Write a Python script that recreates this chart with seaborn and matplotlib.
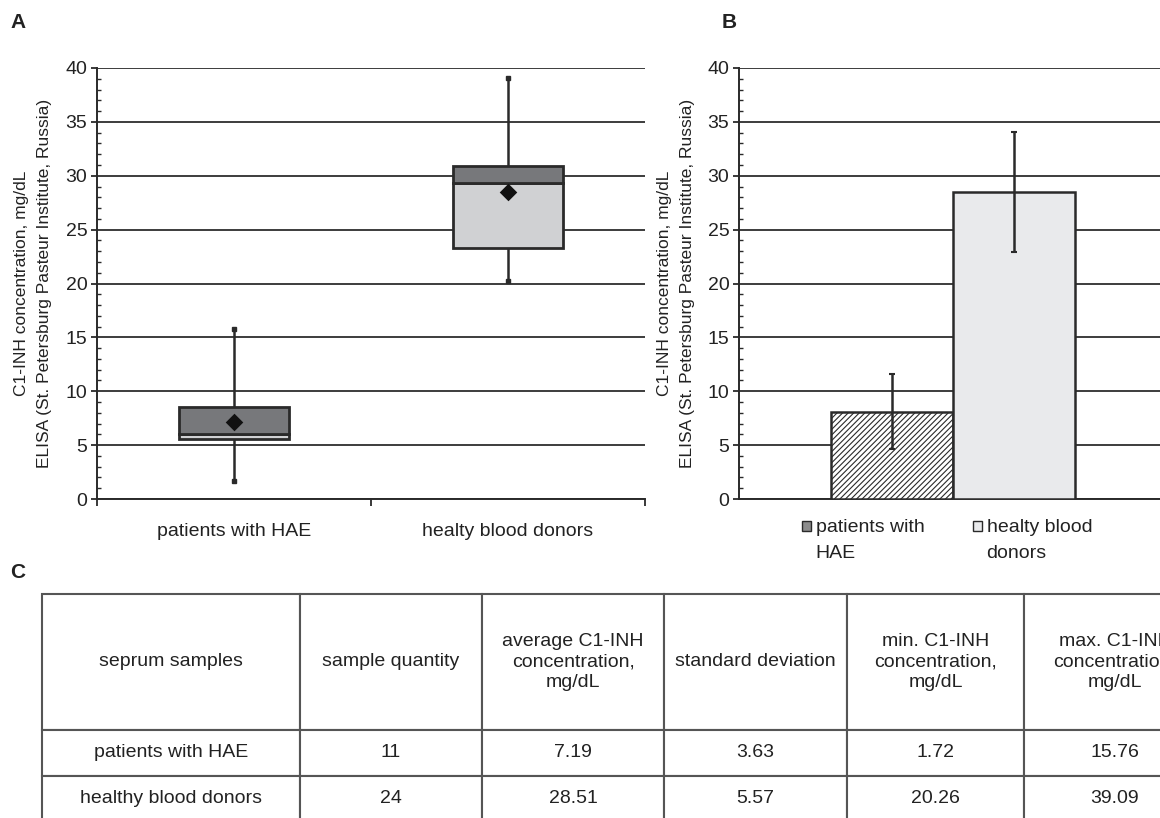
import numpy as np
import pandas as pd
import matplotlib
matplotlib.use("Agg")
import matplotlib.pyplot as plt
import seaborn as sns
from matplotlib.patches import Patch

# ---------------- data ----------------
groups = ["patients with HAE", "healty blood donors"]
box_min = [1.7, 20.2]
box_q1 = [5.6, 23.3]
box_median = [6.0, 29.35]
box_q3 = [8.5, 30.9]
box_max = [15.8, 39.1]
box_mean = [7.15, 28.5]

bar_labels = ["patients with\nHAE", "healty blood\ndonors"]
bar_means = [8.1, 28.5]
bar_err = [3.5, 5.57]

y_ticks = [0, 5, 10, 15, 20, 25, 30, 35, 40]
y_label = "C1-INH concentration, mg/dL\nELISA (St. Petersburg Pasteur Institute, Russia)"

table_header = ["seprum samples", "sample quantity",
                "average C1-INH\nconcentration,\nmg/dL", "standard deviation",
                "min. C1-INH\nconcentration,\nmg/dL", "max. C1-INH\nconcentration,\nmg/dL"]
table_groups = ["patients with HAE", "healthy blood donors"]
table_n = ["11", "24"]
table_avg = ["7.19", "28.51"]
table_sd = ["3.63", "5.57"]
table_min = ["1.72", "20.26"]
table_max = ["15.76", "39.09"]

# ---------------- style ----------------
sns.set_theme(style="white")
plt.rcParams["font.family"] = ["Liberation Sans", "DejaVu Sans"]
plt.rcParams["hatch.linewidth"] = 0.8
TXT = "#222222"
EDGE = "#2a2a2a"
GRID = "#3c3c3c"
BOX_DARK = "#77787b"
BOX_LIGHT = "#d0d1d3"
BAR_LIGHT = "#e9eaec"

W, H = 1160, 818
fig = plt.figure(figsize=(W / 100, H / 100), dpi=100)


def rect(l, t, r, b):
    return [l / W, 1 - b / H, (r - l) / W, (b - t) / H]


def style_axes(ax):
    ax.set_facecolor("white")
    ax.set_ylim(0, 40)
    ax.set_yticks(y_ticks)
    ax.set_yticks(range(0, 41), minor=True)
    ax.tick_params(axis="y", which="major", direction="out", length=4, width=1.3,
                   color=EDGE, labelsize=14, labelcolor=TXT, pad=3, left=True)
    ax.tick_params(axis="y", which="minor", direction="in", length=3, width=1.0,
                   color=EDGE, left=True)
    ax.yaxis.grid(True, which="major", color=GRID, lw=1.4)
    ax.xaxis.grid(False)
    ax.set_axisbelow(True)
    for s in ["top", "right"]:
        ax.spines[s].set_visible(False)
    for s in ["left", "bottom"]:
        ax.spines[s].set_color(EDGE)
        ax.spines[s].set_linewidth(1.4)


# ---------------- panel A ----------------
axA = fig.add_axes(rect(97, 68, 645, 499))
style_axes(axA)
xA = np.arange(len(groups))
axA.vlines(xA, box_min, box_q1, color=EDGE, lw=1.8, zorder=2)
axA.vlines(xA, box_q3, box_max, color=EDGE, lw=1.8, zorder=2)
axA.plot(xA, box_min, ls="none", marker="s", ms=2.5, color=EDGE, zorder=2)
axA.plot(xA, box_max, ls="none", marker="s", ms=2.5, color=EDGE, zorder=2)
axA.bar(xA, np.subtract(box_median, box_q1), bottom=box_q1, width=0.4,
        color=BOX_LIGHT, edgecolor=EDGE, lw=2.0, zorder=3)
axA.bar(xA, np.subtract(box_q3, box_median), bottom=box_median, width=0.4,
        color=BOX_DARK, edgecolor=EDGE, lw=2.0, zorder=3)
sns.scatterplot(x=xA, y=box_mean, marker="D", s=80, color="#111111",
                linewidth=0, ax=axA, zorder=4)
axA.set_xlim(-0.5, 1.5)
axA.set_xticks(xA, groups)
axA.set_xticks([-0.5, 0.5, 1.5], minor=True)
axA.tick_params(axis="x", which="major", length=0, labelsize=14, labelcolor=TXT, pad=17.5)
axA.tick_params(axis="x", which="minor", direction="out", length=5, width=1.3,
                color=EDGE, bottom=True)
axA.set_ylabel(y_label, fontsize=12.5, color=TXT, linespacing=1.7,
               va="center", ha="center")
axA.yaxis.set_label_coords((33 - 97) / (645 - 97), 0.5)
axA.set_xlabel("")

# ---------------- panel B ----------------
axB = fig.add_axes(rect(739, 68, 1167, 499))
dfB = pd.DataFrame({"grp": [""] * len(bar_labels), "series": bar_labels, "mean": bar_means})
sns.barplot(data=dfB, x="grp", y="mean", hue="series", hue_order=bar_labels,
            palette=["white", BAR_LIGHT], width=0.57, edgecolor=EDGE, linewidth=1.8,
            errorbar=None, legend=False, saturation=1, ax=axB, zorder=3)
style_axes(axB)
bars = [p for p in axB.patches if p.get_height() > 0][:len(bar_labels)]
bars[0].set_hatch("//////")
for p, e in zip(bars, bar_err):
    axB.errorbar(p.get_x() + p.get_width() / 2, p.get_height(), yerr=e,
                 color=EDGE, lw=1.8, capsize=2.5, capthick=1.5, zorder=4)
axB.set_xlim(-0.5, 0.5)
axB.set_xticks([])
axB.set_xlabel("")
axB.set_ylabel(y_label, fontsize=12.5, color=TXT, linespacing=1.7,
               va="center", ha="center")
axB.yaxis.set_label_coords((676 - 739) / (1167 - 739), 0.5)

handles = [Patch(facecolor="#8c8c8c", edgecolor=EDGE, lw=1),
           Patch(facecolor=BAR_LIGHT, edgecolor=EDGE, lw=1)]
leg = axB.legend(handles, bar_labels, ncol=2, loc="upper left",
                 bbox_to_anchor=(802 / W, 1 - 519 / H), bbox_transform=fig.transFigure,
                 frameon=False, fontsize=14, handlelength=0.45, handleheight=0.45,
                 handletextpad=0.25, columnspacing=2.5, borderpad=0, borderaxespad=0,
                 labelcolor=TXT)
for t in leg.get_texts():
    t.set_linespacing(1.68)
for h in leg.legend_handles:
    h.set_y(h.get_y() + 10.2)

# ---------------- panel C (table) ----------------
axC = fig.add_axes(rect(42, 594, 1206, 822))
axC.axis("off")
col_px = [258, 182, 182, 183, 177, 182]
row_px = [136, 46, 46]
cell_text = [table_header] + [list(r) for r in zip(table_groups, table_n, table_avg,
                                                  table_sd, table_min, table_max)]
tbl = axC.table(cellText=cell_text, colWidths=[c / sum(col_px) for c in col_px],
                cellLoc="center", bbox=[0, 0, 1, 1])
tbl.auto_set_font_size(False)
tbl.set_fontsize(14)
for (r, c), cell in tbl.get_celld().items():
    cell.set_edgecolor("#555555")
    cell.set_linewidth(1.5)
    cell.set_height(row_px[r] / sum(row_px))
    cell.get_text().set_color(TXT)
    cell.get_text().set_linespacing(1.3)

# ---------------- panel letters ----------------
fig.text(10 / W, 1 - 22 / H, "A", fontsize=15, fontweight="bold", color=TXT, va="center")
fig.text(722 / W, 1 - 22 / H, "B", fontsize=15, fontweight="bold", color=TXT, va="center")
fig.text(10 / W, 1 - 572 / H, "C", fontsize=15, fontweight="bold", color=TXT, va="center")

fig.savefig("out.png", dpi=100, facecolor="white")
